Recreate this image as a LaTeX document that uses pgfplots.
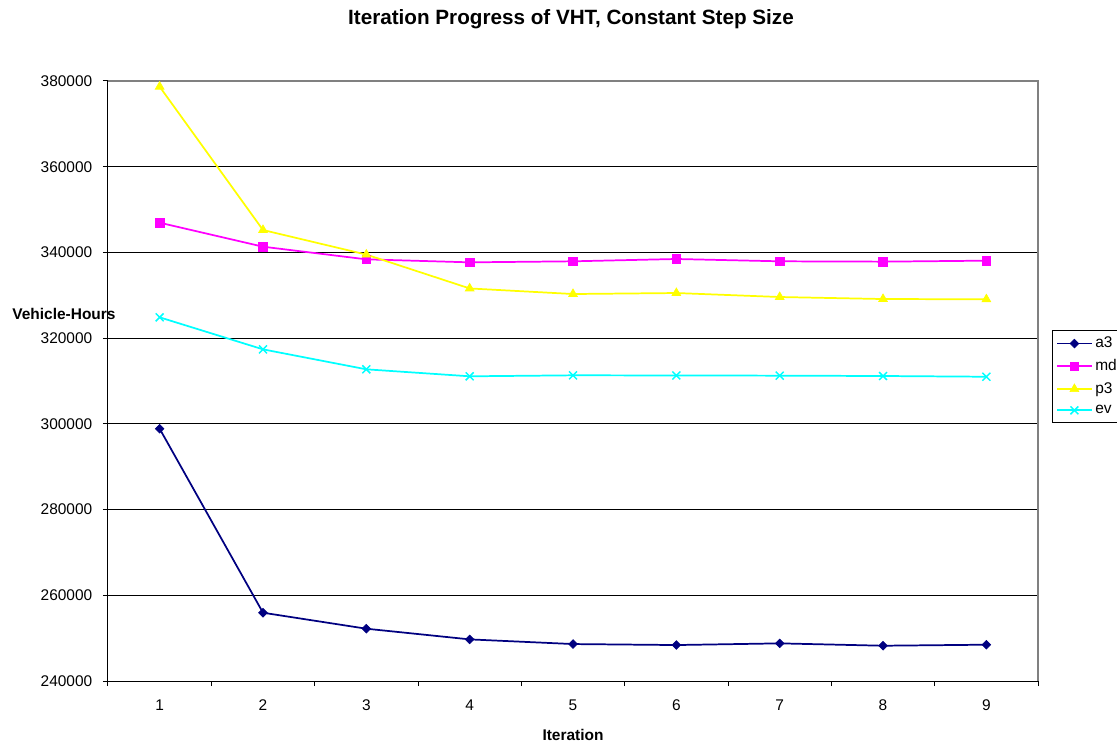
\documentclass[border=0pt]{standalone}
\usepackage{pgfplots}
\pgfplotsset{compat=1.18}
\usepackage{fontspec}
\setmainfont{Liberation Sans}

\definecolor{sNavy}{RGB}{0,0,128}
\definecolor{sMagenta}{RGB}{255,0,255}
\definecolor{sYellow}{RGB}{255,255,0}
\definecolor{sCyan}{RGB}{0,255,255}
\definecolor{frameGray}{RGB}{128,128,128}

\newcommand{\chartfont}{\fontsize{11.6}{13.9}\selectfont}

\begin{document}
\begin{tikzpicture}
\begin{axis}[
  scale only axis,
  width=697.5pt, height=450pt,
  xmin=0.5, xmax=9.5,
  ymin=240000, ymax=380000,
  axis lines*=left,
  axis line style={black, line width=0.75pt},
  xtick={1,...,9},
  minor xtick={0.5,1.5,...,9.5},
  major x tick style={draw=none},
  minor x tick style={black, line width=0.75pt},
  minor tick length=3.75pt,
  ytick={240000,260000,...,380000},
  major y tick style={black, line width=0.75pt},
  major tick length=3.75pt,
  tick align=outside,
  ymajorgrids,
  major grid style={black, line width=0.75pt},
  scaled y ticks=false,
  /pgf/number format/assume math mode=true,
  y tick label style={/pgf/number format/fixed, /pgf/number format/1000 sep={}, xshift=-4.5pt},
  x tick label style={yshift=-6.5pt},
  tick label style={font=\chartfont},
  title={Iteration Progress of VHT, Constant Step Size},
  every axis title shift=0pt,
  title style={at={(axis description cs:0.4978,1.1033)}, anchor=center,
               font=\bfseries\fontsize{15.5}{18}\selectfont},
  xlabel={Iteration},
  xlabel style={at={(axis description cs:0.5,-0.09)}, anchor=center,
                font=\bfseries\chartfont},
  ylabel={Vehicle-Hours},
  ylabel style={rotate=-90, at={(axis description cs:-0.0473,0.612)}, anchor=center,
                font=\bfseries\chartfont},
  legend style={at={(axis description cs:1.0147,0.585)}, anchor=north west,
                draw=black, line width=0.75pt, font=\chartfont,
                inner xsep=3pt, inner ysep=3pt, row sep=3.3pt},
  legend cell align=left,
  legend image code/.code={%
    \draw[mark repeat=2, mark phase=2] plot coordinates {(0pt,0pt) (13pt,0pt) (26pt,0pt)};},
  every axis plot/.append style={line width=1.3pt},
  clip=false,
]

% a3
\addplot[color=sNavy, mark=square*, mark size=2.3pt,
         mark options={rotate=45, solid, line width=0.5pt}]
  coordinates {(1,298870) (2,255940) (3,252210) (4,249720) (5,248630)
               (6,248400) (7,248790) (8,248240) (9,248480)};
\addlegendentry{a3}

% md
\addplot[color=sMagenta, mark=square*, mark size=3.2pt,
         mark options={solid, line width=0.5pt}]
  coordinates {(1,346940) (2,341340) (3,338390) (4,337690) (5,337930)
               (6,338470) (7,337930) (8,337850) (9,338080)};
\addlegendentry{md}

% p3
\addplot[color=sYellow, mark=triangle*, mark size=3.8pt,
         mark options={solid, line width=0.5pt}]
  coordinates {(1,378670) (2,345230) (3,339500) (4,331600) (5,330300)
               (6,330530) (7,329600) (8,329130) (9,329070)};
\addlegendentry{p3}

% ev
\addplot[color=sCyan, mark=x, mark size=4.2pt,
         mark options={solid, line width=1.1pt}]
  coordinates {(1,324860) (2,317390) (3,312730) (4,311100) (5,311330)
               (6,311300) (7,311250) (8,311170) (9,311000)};
\addlegendentry{ev}

% gray plot-area border on the top and right
\draw[frameGray, line width=1.1pt]
  (rel axis cs:0,1) -- (rel axis cs:1,1) -- (rel axis cs:1,0);

% page extent
\coordinate (pageSW) at (rel axis cs:-0.1161,-0.105);
\coordinate (pageNE) at (rel axis cs:1.0849,1.135);
\end{axis}
\pgfresetboundingbox
\useasboundingbox (pageSW) rectangle (pageNE);
\end{tikzpicture}
\end{document}
